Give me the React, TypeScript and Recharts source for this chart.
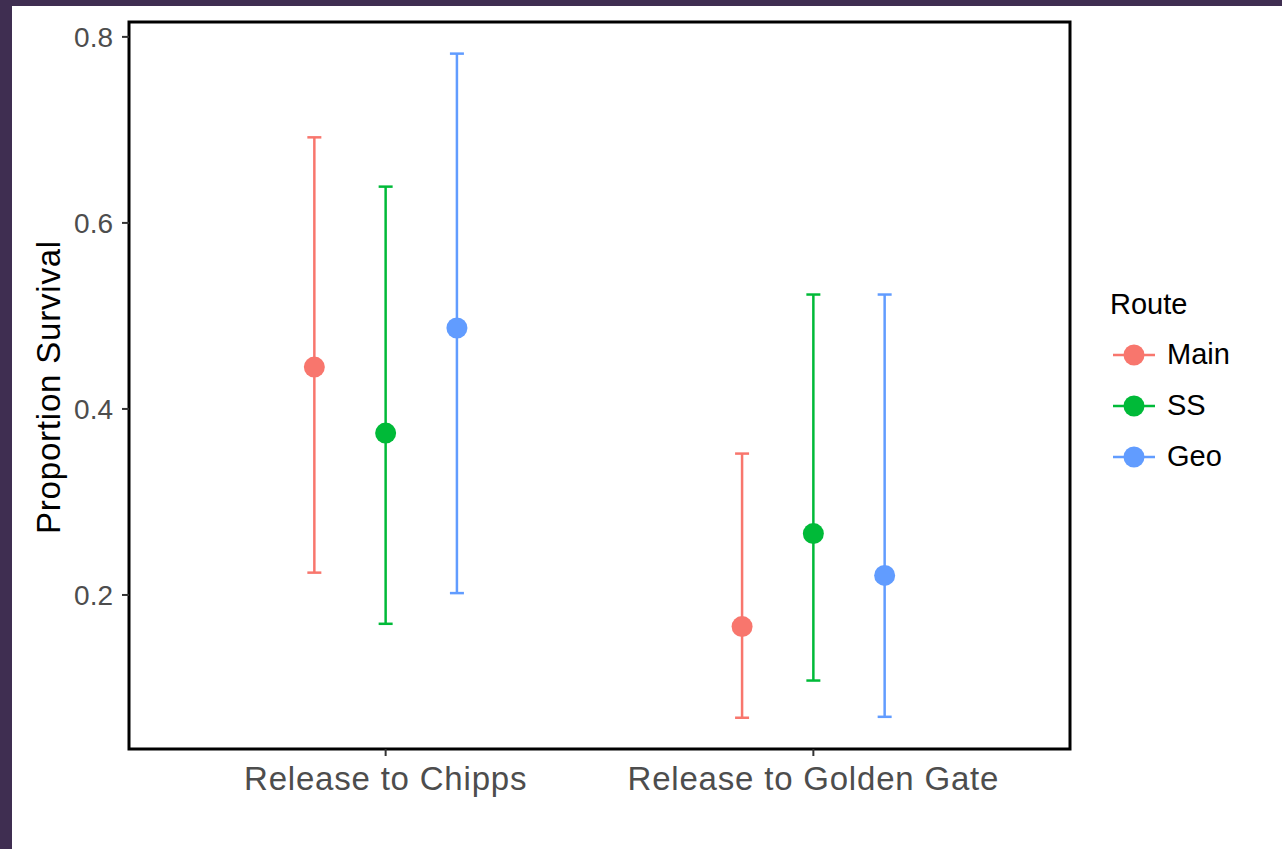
import React from 'react';
import { ComposedChart, Scatter, ErrorBar, XAxis, YAxis, Legend, ReferenceArea } from 'recharts';

const categories = ['Release to Chipps', 'Release to Golden Gate'];
const routes = ['Main', 'SS', 'Geo'];
const colors = ['#F8766D', '#00BA38', '#619CFF'];

const mainEst = [0.445, 0.166];
const mainLow = [0.224, 0.068];
const mainHigh = [0.692, 0.352];

const ssEst = [0.374, 0.266];
const ssLow = [0.169, 0.108];
const ssHigh = [0.639, 0.523];

const geoEst = [0.487, 0.221];
const geoLow = [0.202, 0.069];
const geoHigh = [0.782, 0.523];

const yTicks = [0.2, 0.4, 0.6, 0.8];

// ggplot-like dodge of 0.5 across 3 groups
const dodge = [-1 / 6, 0, 1 / 6];
const Y_MIN = 0.0344;
const Y_MAX = 0.816;
const FONT = '"Liberation Sans", Arial, Helvetica, sans-serif';

const build = (est: number[], low: number[], high: number[], k: number) =>
  est.map((v, i) => ({ x: i + 1 + dodge[k], y: v, err: [v - low[i], high[i] - v] }));

const series = [
  build(mainEst, mainLow, mainHigh, 0),
  build(ssEst, ssLow, ssHigh, 1),
  build(geoEst, geoLow, geoHigh, 2),
];

const dot = (color: string) => (p: any) => <circle cx={p.cx} cy={p.cy} r={10.5} fill={color} />;

const RouteLegend = (props: any) => {
  // keep the route order, not the alphabetical one
  const items = [...(props.payload || [])].sort(
    (a: any, b: any) => routes.indexOf(a.value) - routes.indexOf(b.value)
  );
  return (
    <div style={{ fontFamily: FONT, color: '#000' }}>
      <div style={{ fontSize: 29, lineHeight: '34px', marginBottom: 8 }}>Route</div>
      {items.map((it: any, i: number) => (
        <div key={i} style={{ display: 'flex', alignItems: 'center', height: 51 }}>
          <svg width={48} height={30} style={{ marginLeft: 3 }}>
            <line x1={0} y1={15} x2={42} y2={15} stroke={it.color} strokeWidth={2.5} />
            <circle cx={21} cy={15} r={10.5} fill={it.color} />
          </svg>
          <span style={{ fontSize: 29, marginLeft: 6 }}>{it.value}</span>
        </div>
      ))}
    </div>
  );
};

export default function App() {
  return (
    <div style={{ position: 'fixed', left: 0, top: 0, width: 1282, height: 849, background: '#3f2e51' }}>
      <div style={{ position: 'absolute', left: 12, top: 6, right: 0, bottom: 0, background: '#fff' }} />
      <div style={{ position: 'absolute', left: 0, top: 0 }}>
        <ComposedChart width={1282} height={849} margin={{ top: 22, right: 212, bottom: 0, left: 12 }}>
          <ReferenceArea x1={0.4} x2={2.6} y1={Y_MIN} y2={Y_MAX} fill="none" stroke="#000" strokeWidth={3} ifOverflow="visible" />
          <XAxis
            type="number"
            dataKey="x"
            domain={[0.4, 2.6]}
            ticks={[1, 2]}
            tickFormatter={(v: number) => categories[v - 1]}
            allowDataOverflow
            height={100}
            axisLine={false}
            tickLine={{ stroke: '#333', strokeWidth: 2 }}
            tickSize={7}
            tickMargin={11}
            tick={{ fill: '#4d4d4d', fontSize: 33, fontFamily: FONT, letterSpacing: 0.8 }}
          />
          <YAxis
            type="number"
            dataKey="y"
            domain={[Y_MIN, Y_MAX]}
            ticks={yTicks}
            tickFormatter={(v: number) => v.toFixed(1)}
            allowDataOverflow
            width={117}
            axisLine={false}
            tickLine={{ stroke: '#333', strokeWidth: 2 }}
            tickSize={7}
            tickMargin={9}
            tick={{ fill: '#4d4d4d', fontSize: 28, fontFamily: FONT }}
            label={{
              content: () => (
                <text
                  x={60}
                  y={387}
                  transform="rotate(-90, 60, 387)"
                  textAnchor="middle"
                  fontSize={33}
                  fontFamily={FONT}
                  letterSpacing={0.8}
                  fill="#000"
                >
                  Proportion Survival
                </text>
              ),
            }}
          />
          {series.map((d, k) => (
            <Scatter
              key={routes[k]}
              name={routes[k]}
              data={d}
              fill={colors[k]}
              isAnimationActive={false}
              shape={dot(colors[k])}
            >
              <ErrorBar dataKey="err" direction="y" width={7} stroke={colors[k]} strokeWidth={2.5} isAnimationActive={false} />
            </Scatter>
          ))}
          <Legend
            layout="vertical"
            align="center"
            verticalAlign="middle"
            wrapperStyle={{ left: 1110, top: 287, width: 'auto' }}
            content={RouteLegend}
          />
        </ComposedChart>
      </div>
    </div>
  );
}
